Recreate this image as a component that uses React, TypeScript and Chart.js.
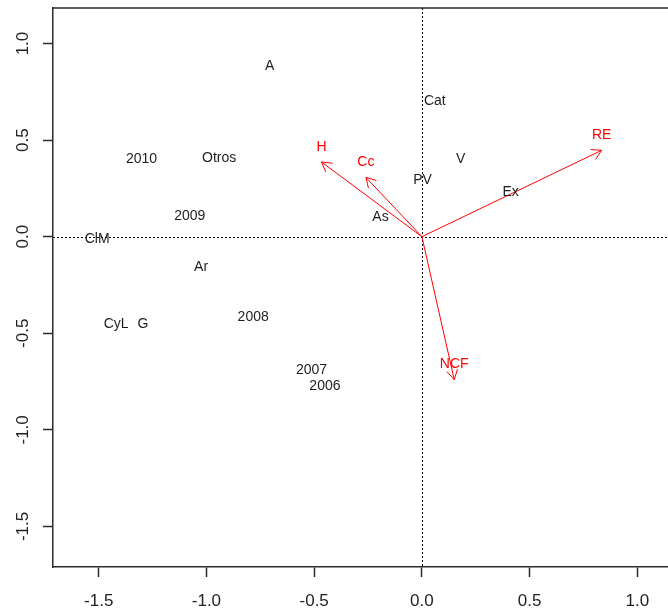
import React, { useEffect, useRef } from 'react';
import { Chart, registerables } from 'chart.js';

Chart.register(...registerables);

// Axis ticks and visible ranges
const xTicks = [-1.5, -1.0, -0.5, 0.0, 0.5, 1.0];
const yTicks = [-1.5, -1.0, -0.5, 0.0, 0.5, 1.0];
const xMin = -1.712;
const xMax = 1.142;
const yMin = -1.71;
const yMax = 1.184;

// Row scores: regions and years
const rowNames = ['A', '2010', 'Otros', '2009', 'ClM', 'Ar', 'CyL', 'G', '2008', '2007', '2006', 'Cat', 'V', 'PV', 'Ex', 'As'];
const rowX = [-0.706, -1.301, -0.941, -1.077, -1.507, -1.025, -1.419, -1.295, -0.783, -0.512, -0.45, 0.06, 0.18, 0.003, 0.412, -0.192];
const rowY = [0.885, 0.399, 0.405, 0.109, -0.012, -0.157, -0.452, -0.452, -0.418, -0.69, -0.775, 0.7, 0.402, 0.295, 0.231, 0.102];

// Variable loadings, drawn as arrows from the origin
const varNames = ['H', 'Cc', 'RE', 'NCF'];
const varX = [-0.466, -0.26, 0.834, 0.15];
const varY = [0.387, 0.307, 0.447, -0.74];

const FONT = "'Liberation Sans', Arial, sans-serif";
const RED = '#ff0000';
const FRAME = '#2a2a2a';

const biplotPlugin = {
  id: 'biplot',
  beforeDatasetsDraw(chart: any) {
    const { ctx, chartArea: a, scales } = chart;
    const x0 = Math.round(scales.x.getPixelForValue(0)) + 0.5;
    const y0 = Math.round(scales.y.getPixelForValue(0)) + 0.5;
    ctx.save();
    ctx.strokeStyle = '#000';
    ctx.lineWidth = 1;
    ctx.setLineDash([2, 2]);
    ctx.beginPath();
    ctx.moveTo(x0, a.top);
    ctx.lineTo(x0, a.bottom);
    ctx.moveTo(a.left, y0);
    ctx.lineTo(a.right, y0);
    ctx.stroke();
    ctx.restore();
  },
  afterDatasetsDraw(chart: any) {
    const { ctx, chartArea: a } = chart;
    ctx.save();

    // top frame line
    ctx.strokeStyle = FRAME;
    ctx.lineWidth = 1.5;
    ctx.beginPath();
    ctx.moveTo(a.left, a.top);
    ctx.lineTo(a.right, a.top);
    ctx.stroke();

    ctx.font = `14px ${FONT}`;
    ctx.textAlign = 'center';
    ctx.textBaseline = 'middle';

    // row labels
    const rowMeta = chart.getDatasetMeta(0);
    ctx.fillStyle = '#1e1e1e';
    rowMeta.data.forEach((pt: any, i: number) => {
      ctx.fillText(rowNames[i], pt.x, pt.y);
    });

    // arrowheads and variable labels
    ctx.strokeStyle = RED;
    ctx.fillStyle = RED;
    ctx.lineWidth = 1;
    for (let k = 0; k < varNames.length; k++) {
      const meta = chart.getDatasetMeta(k + 1);
      const o = meta.data[0];
      const t = meta.data[1];
      const ang = Math.atan2(t.y - o.y, t.x - o.x);
      const len = 11;
      const spread = Math.PI / 6;
      ctx.beginPath();
      ctx.moveTo(t.x - len * Math.cos(ang - spread), t.y - len * Math.sin(ang - spread));
      ctx.lineTo(t.x, t.y);
      ctx.lineTo(t.x - len * Math.cos(ang + spread), t.y - len * Math.sin(ang + spread));
      ctx.stroke();
      ctx.fillText(varNames[k], t.x, t.y - 15);
    }
    ctx.restore();
  },
};

export default function App() {
  const canvasRef = useRef<HTMLCanvasElement | null>(null);

  useEffect(() => {
    const canvas = canvasRef.current;
    if (!canvas) return;

    const rowData = rowX.map((x, i) => ({ x, y: rowY[i] }));
    const arrowSets = varNames.map((name, k) => ({
      label: name,
      data: [
        { x: 0, y: 0 },
        { x: varX[k], y: varY[k] },
      ],
      showLine: true,
      borderColor: RED,
      borderWidth: 1,
      pointRadius: 0,
      fill: false,
    }));

    const tickFont = { family: FONT, size: 17 };

    const chart = new Chart(canvas, {
      type: 'scatter',
      data: {
        datasets: [
          { label: 'rows', data: rowData, pointRadius: 0, showLine: false },
          ...arrowSets,
        ],
      },
      plugins: [biplotPlugin],
      options: {
        animation: false,
        responsive: false,
        events: [],
        layout: { padding: { top: 8, right: 0, left: 0, bottom: 0 } },
        plugins: { legend: { display: false }, tooltip: { enabled: false } },
        scales: {
          x: {
            type: 'linear',
            min: xMin,
            max: xMax,
            afterBuildTicks: (s: any) => {
              s.ticks = xTicks.map((v) => ({ value: v }));
            },
            afterFit: (s: any) => {
              s.height = 47;
              s.paddingLeft = 0;
              s.paddingRight = 0;
            },
            grid: {
              drawOnChartArea: false,
              drawTicks: true,
              tickLength: 10,
              tickColor: FRAME,
              tickWidth: 1.5,
            },
            border: { display: true, color: FRAME, width: 1.5 },
            ticks: {
              font: tickFont,
              color: '#222',
              padding: 14,
              maxRotation: 0,
              autoSkip: false,
              callback: (v: any) => Number(v).toFixed(1),
            },
          },
          y: {
            type: 'linear',
            min: yMin,
            max: yMax,
            afterBuildTicks: (s: any) => {
              s.ticks = yTicks.map((v) => ({ value: v }));
            },
            afterFit: (s: any) => {
              s.width = 53;
              s.paddingTop = 0;
              s.paddingBottom = 0;
            },
            grid: {
              drawOnChartArea: false,
              drawTicks: true,
              tickLength: 10,
              tickColor: FRAME,
              tickWidth: 1.5,
            },
            border: { display: true, color: FRAME, width: 1.5 },
            ticks: {
              font: tickFont,
              color: '#222',
              padding: 5,
              minRotation: 90,
              maxRotation: 90,
              crossAlign: 'center',
              autoSkip: false,
              callback: (v: any) => Number(v).toFixed(1),
            },
          },
        },
      },
    } as any);

    return () => chart.destroy();
  }, []);

  return (
    <div style={{ position: 'absolute', left: 0, top: 0, width: 668, height: 614, background: '#fff' }}>
      <canvas ref={canvasRef} width={668} height={614} style={{ display: 'block' }} />
    </div>
  );
}
